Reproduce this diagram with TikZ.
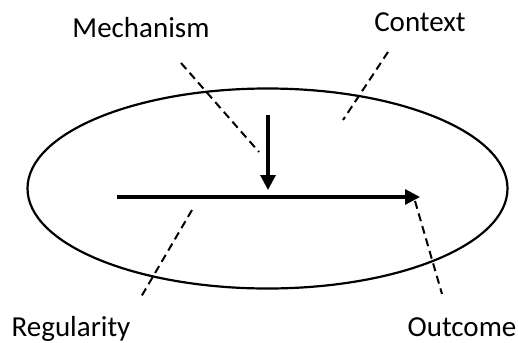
\documentclass[tikz,border=0pt]{standalone}
\usepackage{fontspec}
\setmainfont{Carlito}
\usetikzlibrary{arrows.meta,shapes.geometric}
\begin{document}
\begin{tikzpicture}[x=1pt,y=-1pt,
  lbl/.style={anchor=base,inner sep=0pt,font=\fontsize{29}{32}\selectfont},
  leader/.style={draw=black,line width=2pt,dash pattern=on 8pt off 5pt},
  flow/.style={draw=black,line width=3.2pt,-{Triangle[length=15pt,width=15pt]}},
  ctx/.style={draw=black,line width=2.2pt,ellipse,inner sep=0pt,minimum width=480pt,minimum height=200pt}]
\useasboundingbox (0,0) rectangle (518,342);
\node[ctx] (context) at (267.5,188.5) {};
\node[lbl] (mech) at (141,38) {Mechanism};
\node[lbl] (ctxl) at (420,32) {Context};
\node[lbl] (reg) at (71,336) {Regularity};
\node[lbl] (out) at (462,336) {Outcome};
\coordinate (hs) at (117,197);
\coordinate (he) at (420,197);
\coordinate (vs) at (268,115);
\coordinate (ve) at (268,190);
\draw[flow] (hs) -- (he);
\draw[flow] (vs) -- (ve);
\coordinate (m1) at (181,63); \coordinate (m2) at (259,152);
\coordinate (c1) at (388,52); \coordinate (c2) at (343,120);
\coordinate (r1) at (192,210); \coordinate (r2) at (141,297);
\coordinate (o1) at (415,201); \coordinate (o2) at (442,294);
\draw[leader] (m1) -- (m2);
\draw[leader] (c1) -- (c2);
\draw[leader] (r1) -- (r2);
\draw[leader] (o1) -- (o2);
\end{tikzpicture}
\end{document}
